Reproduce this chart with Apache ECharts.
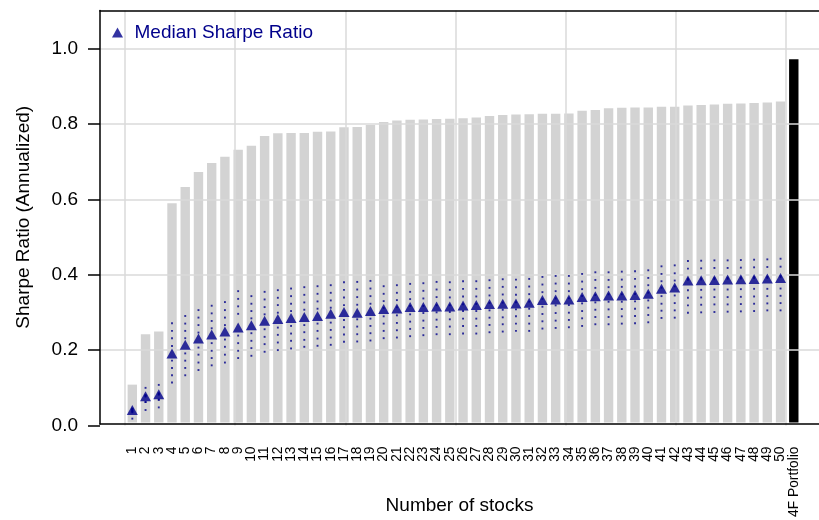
<!DOCTYPE html>
<html><head><meta charset="utf-8">
<script src="https://cdn.jsdelivr.net/npm/echarts@6/dist/echarts.min.js"></script>
<style>html,body{margin:0;padding:0;background:#fff}#c{width:819px;height:520px}</style>
</head><body><div id="c"></div>
<script>
const categories = ['1','2','3','4','5','6','7','8','9','10','11','12','13','14','15','16','17','18','19','20',
  '21','22','23','24','25','26','27','28','29','30','31','32','33','34','35','36','37','38','39','40',
  '41','42','43','44','45','46','47','48','49','50','4F Portfolio'];
const maxSharpe = [0.101,0.2355,0.2427,0.585,0.629,0.669,0.693,0.7095,0.728,0.739,
  0.765,0.772,0.773,0.773,0.776,0.777,0.788,0.789,0.794,0.802,
  0.806,0.808,0.809,0.810,0.811,0.812,0.814,0.818,0.821,0.822,
  0.823,0.824,0.824,0.825,0.832,0.834,0.839,0.840,0.841,0.841,
  0.843,0.843,0.846,0.8475,0.849,0.851,0.852,0.853,0.8546,0.857];
const portfolioSharpe = 0.9695;
const medianSharpe = [0.033,0.0703,0.0756,0.1844,0.2073,0.224,0.2347,0.2427,0.2533,0.2595,
  0.2719,0.2763,0.279,0.2816,0.2843,0.2905,0.2949,0.2931,0.2975,0.3028,
  0.3046,0.3081,0.3081,0.3099,0.3099,0.3126,0.3134,0.3161,0.317,0.3179,
  0.3196,0.3267,0.3285,0.3285,0.3347,0.3373,0.3391,0.3391,0.34,0.3435,
  0.3568,0.3603,0.3789,0.3798,0.3806,0.3815,0.3824,0.3833,0.3842,0.3859];
const q90 = [0.037,0.0924,0.1003,0.265,0.2843,0.300,0.3117,0.3214,0.3506,0.3373,
  0.3488,0.3532,0.3576,0.3612,0.3638,0.3665,0.3744,0.3753,0.378,0.3638,
  0.3665,0.370,0.3718,0.3753,0.3744,0.3771,0.3771,0.3798,0.3824,0.3815,
  0.3833,0.3886,0.3912,0.3912,0.3966,0.401,0.401,0.4027,0.4036,0.4063,
  0.4169,0.4195,0.431,0.4319,0.4328,0.4328,0.4337,0.4346,0.4355,0.4372];
const q80 = [0.036,0.073,0.078,0.2445,0.264,0.280,0.2913,0.300,0.330,0.317,
  0.3285,0.3329,0.3373,0.3408,0.3435,0.3462,0.3541,0.355,0.3576,0.3435,
  0.3462,0.3488,0.3515,0.355,0.3541,0.3568,0.3568,0.3594,0.3621,0.3612,
  0.363,0.3683,0.3709,0.3709,0.3762,0.3806,0.3806,0.3815,0.3833,0.3859,
  0.3966,0.3983,0.4107,0.4116,0.4125,0.4125,0.4134,0.4142,0.4151,0.416];
const q70 = [0.035,0.072,0.077,0.225,0.2445,0.260,0.271,0.280,0.310,0.2975,
  0.308,0.3134,0.317,0.3205,0.3232,0.3258,0.3338,0.3347,0.3373,0.324,
  0.3267,0.3294,0.3311,0.3347,0.3338,0.3364,0.3364,0.3391,0.3417,0.3408,
  0.3426,0.3479,0.3506,0.3506,0.3559,0.3594,0.3612,0.3621,0.363,0.3665,
  0.3771,0.3789,0.3839,0.3848,0.3856,0.3865,0.3874,0.3883,0.3892,0.3909];
const q60 = [0.034,0.071,0.076,0.204,0.225,0.240,0.2515,0.260,0.290,0.278,
  0.2887,0.2931,0.2975,0.301,0.3037,0.3064,0.3134,0.3143,0.317,0.3058,
  0.3076,0.3111,0.3111,0.3129,0.3129,0.3156,0.3164,0.3191,0.320,0.3209,
  0.3226,0.3297,0.3315,0.3315,0.3377,0.3403,0.3421,0.3421,0.343,0.3465,
  0.3598,0.3633,0.3809,0.3818,0.3826,0.3835,0.3844,0.3853,0.3862,0.3879];
const q40 = [0.031,0.069,0.074,0.165,0.1844,0.200,0.2118,0.2215,0.232,0.2383,
  0.2489,0.2533,0.2577,0.260,0.264,0.2666,0.2737,0.2754,0.2772,0.2834,
  0.286,0.2887,0.2922,0.294,0.2949,0.2975,0.2975,0.2993,0.301,0.3019,
  0.3037,0.309,0.3126,0.3134,0.3179,0.3205,0.3223,0.3223,0.3232,0.3258,
  0.3373,0.3391,0.3532,0.3541,0.355,0.355,0.3559,0.3568,0.3568,0.3576];
const q30 = [0.029,0.0544,0.0606,0.1455,0.165,0.181,0.1914,0.202,0.2118,0.218,
  0.2286,0.2339,0.2374,0.241,0.2445,0.2471,0.2542,0.256,0.2577,0.2639,
  0.2657,0.2692,0.2719,0.2745,0.2754,0.2772,0.2772,0.2798,0.2807,0.2834,
  0.2843,0.2896,0.2922,0.2931,0.2975,0.301,0.3019,0.3028,0.3037,0.3064,
  0.317,0.3187,0.3329,0.3338,0.3347,0.3347,0.3355,0.3364,0.3373,0.3382];
const q20 = [0.027,0.0544,0.0606,0.126,0.1455,0.160,0.172,0.181,0.1914,0.1985,
  0.2091,0.2135,0.218,0.2206,0.224,0.2268,0.2347,0.2356,0.2383,0.2445,
  0.2462,0.2498,0.2524,0.2551,0.256,0.2577,0.2577,0.2604,0.2622,0.2639,
  0.2639,0.2701,0.2719,0.2737,0.2781,0.2816,0.2816,0.2834,0.2843,0.2869,
  0.2984,0.2993,0.3126,0.3143,0.3152,0.3152,0.3161,0.317,0.3179,0.3187];
const q10 = [0.0102,0.0332,0.0402,0.1066,0.126,0.140,0.1525,0.160,0.172,0.178,
  0.1888,0.1932,0.1976,0.202,0.2047,0.2073,0.2153,0.2162,0.2188,0.225,
  0.2268,0.2303,0.233,0.2356,0.2356,0.2374,0.2374,0.2409,0.2427,0.2445,
  0.2445,0.2507,0.2524,0.2542,0.2577,0.2622,0.2622,0.2639,0.2648,0.2675,
  0.279,0.2798,0.2931,0.294,0.2949,0.2958,0.2966,0.2975,0.2993,0.2993];
const yTickLabels = ['0.0','0.2','0.4','0.6','0.8','1.0'];

const F = '"Liberation Sans", Arial, Helvetica, sans-serif';
const quantiles = [q10,q20,q30,q40,q60,q70,q80,q90];
const dots = [];
quantiles.forEach(q => q.forEach((v,i) => dots.push([i, v])));
const barData = maxSharpe.map(v => ({value: v})).concat([{value: portfolioSharpe, itemStyle: {color: '#000000'}}]);
const frameLine = {show: true, onZero: false, lineStyle: {color: '#000', width: 1.5}};
const gridLine = {color: '#dadada', width: 1.5};

const chart = echarts.init(document.getElementById('c'), null, {renderer: 'canvas'});
chart.setOption({
  animation: false,
  backgroundColor: '#ffffff',
  textStyle: {fontFamily: F},
  legend: {
    data: ['Median Sharpe Ratio'], left: 107, top: 18, icon: 'triangle',
    itemWidth: 11, itemHeight: 10, selectedMode: false,
    textStyle: {color: '#00008B', fontSize: 19, fontFamily: F, padding: [0, 0, 0, 6.5]}
  },
  grid: [
    {left: 125.7, width: 674.7, top: 10.5, bottom: 94.5},
    {left: 100, right: -7, top: 48.5, bottom: 94.5},
    {left: 125, width: 661.2, top: 10.5, bottom: 94.5},
    {left: 100, right: -7, top: 10.5, bottom: 94.5}
  ],
  xAxis: [
    {type: 'category', gridIndex: 0, data: categories, axisLine: {show: false}, axisTick: {show: false},
     axisLabel: {interval: 0, rotate: 90, fontSize: 13.8, color: '#000', margin: 24, fontFamily: F},
     splitLine: {show: false}},
    {type: 'value', gridIndex: 1, min: 0, max: 1, show: false},
    {type: 'value', gridIndex: 2, min: 0, max: 6, interval: 1, axisLine: {show: false}, axisTick: {show: false},
     axisLabel: {show: false}, splitLine: {show: true, lineStyle: gridLine}, z: 3},
    {type: 'value', gridIndex: 3, position: 'bottom', min: 0, max: 1, axisLine: frameLine, axisTick: {show: false},
     axisLabel: {show: false}, splitLine: {show: false}, name: 'Number of stocks', nameLocation: 'middle',
     nameGap: 72, nameTextStyle: {fontSize: 19, color: '#000', fontFamily: F}, z: 4},
    {type: 'value', gridIndex: 3, position: 'top', min: 0, max: 1, axisLine: frameLine, axisTick: {show: false},
     axisLabel: {show: false}, splitLine: {show: false}, z: 4}
  ],
  yAxis: [
    {type: 'value', gridIndex: 0, min: 0, max: 1.1, show: false},
    {type: 'value', gridIndex: 1, min: 0, max: 1, interval: 0.2, axisLine: {show: false},
     axisTick: {show: true, length: 12, lineStyle: {color: '#000', width: 1.5}},
     axisLabel: {fontSize: 19, color: '#000', margin: 22, fontFamily: F,
       formatter: v => yTickLabels[Math.round(v / 0.2)]},
     splitLine: {show: true, showMinLine: false, lineStyle: gridLine}, z: 3},
    {type: 'value', gridIndex: 2, min: 0, max: 1, show: false},
    {type: 'value', gridIndex: 3, min: 0, max: 1.1, axisLine: frameLine, axisTick: {show: false},
     axisLabel: {show: false}, splitLine: {show: false}, name: 'Sharpe Ratio (Annualized)',
     nameLocation: 'middle', nameGap: 67, nameTextStyle: {fontSize: 19, color: '#000', fontFamily: F}, z: 4}
  ],
  series: [
    {type: 'bar', name: 'Max Sharpe', xAxisIndex: 0, yAxisIndex: 0, barWidth: 9.4, data: barData,
     itemStyle: {color: '#d3d3d3'}, z: 2, silent: true},
    {type: 'scatter', name: 'Deciles', xAxisIndex: 0, yAxisIndex: 0, data: dots, symbol: 'rect',
     symbolSize: 1.9, itemStyle: {color: '#00008B'}, z: 5, silent: true},
    {type: 'scatter', name: 'Median Sharpe Ratio', xAxisIndex: 0, yAxisIndex: 0,
     data: medianSharpe.map((v, i) => [i, v]), symbol: 'triangle', symbolSize: [11, 10],
     itemStyle: {color: '#00008B'}, z: 6, silent: true}
  ]
});
</script></body></html>
